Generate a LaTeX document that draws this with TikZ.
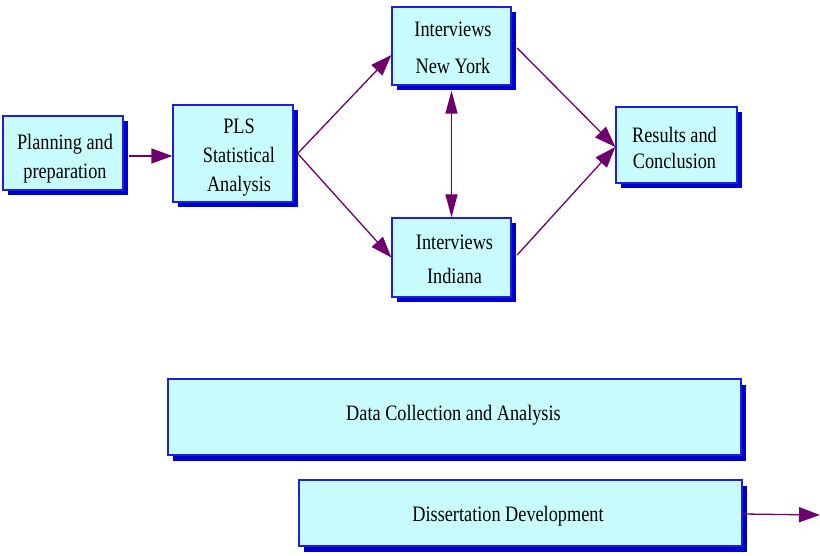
\documentclass[tikz,border=0pt]{standalone}
\usepackage{fontspec}
\setmainfont{Liberation Serif}[FakeStretch=0.83]
\usetikzlibrary{arrows.meta,shadows}
\definecolor{boxfill}{RGB}{200,252,252}
\definecolor{boxline}{RGB}{30,30,220}
\definecolor{shadowblue}{RGB}{0,0,205}
\definecolor{arrowpurple}{RGB}{110,0,110}
\tikzset{
  box/.style={draw=boxline, fill=boxfill, line width=1.3pt, inner sep=0pt,
    drop shadow={shadow xshift=5pt, shadow yshift=-5.5pt, fill=shadowblue, opacity=1}},
  txt/.style={align=center, inner sep=0pt, text=black},
  arr/.style={draw=arrowpurple, line width=1.3pt, -{Triangle[length=21pt,width=15pt]}},
  dblarr/.style={draw=arrowpurple, line width=1.3pt, {Triangle[length=23pt,width=12pt]}-{Triangle[length=23pt,width=12pt]}}
}
\begin{document}
\begin{tikzpicture}[x=1pt,y=-1pt]
\useasboundingbox (0,0) rectangle (820,556);
% boxes
\node[box, minimum width=120pt, minimum height=74pt] (plan) at (63,153) {};
\node[box, minimum width=120pt, minimum height=97pt] (pls) at (233,153.5) {};
\node[box, minimum width=119pt, minimum height=78pt] (ny) at (451.5,46) {};
\node[box, minimum width=119pt, minimum height=79pt] (ind) at (451.5,257.5) {};
\node[box, minimum width=121pt, minimum height=76pt] (res) at (676.5,145) {};
\node[box, minimum width=573pt, minimum height=76pt] (data) at (454.5,417) {};
\node[box, minimum width=443pt, minimum height=66pt] (diss) at (520.5,513) {};
% texts
\node[txt, font=\fontsize{22}{29}\selectfont] (plant) at (65,158.4) {Planning and\\preparation};
\node[txt, font=\fontsize{22}{29}\selectfont] (plst) at (239,157.1) {PLS\\Statistical\\Analysis};
\node[txt, font=\fontsize{22}{37}\selectfont] (nyt) at (453,48) {Interviews\\New York};
\node[txt, font=\fontsize{22}{34}\selectfont] (indt) at (454.5,259) {Interviews\\Indiana};
\node[txt, font=\fontsize{22}{26}\selectfont] (rest) at (674.5,148) {Results and\\Conclusion};
\node[txt, font=\fontsize{22}{26}\selectfont] (datat) at (453.5,415) {Data Collection and Analysis};
\node[txt, font=\fontsize{22}{26}\selectfont] (disst) at (508,516) {Dissertation Development};
% connectors
\coordinate (out) at (820,515);
\draw[arr] ([shift={(5,3)}]plan.east) -- ([shift={(0,2.5)}]pls.west);
\draw[arr] ([shift={(4,0)}]pls.east) -- ([shift={(0,9)}]ny.west);
\draw[arr] ([shift={(4,0)}]pls.east) -- (ind.west);
\draw[dblarr] ([shift={(0,5)}]ny.south) -- (ind.north);
\draw[arr] ([shift={(5.5,2)}]ny.east) -- ([shift={(0,2)}]res.west);
\draw[arr] ([shift={(5.5,-2.5)}]ind.east) -- ([shift={(0,2)}]res.west);
\draw[arr] ([shift={(0,1)}]diss.east) -- (out);
\end{tikzpicture}
\end{document}
